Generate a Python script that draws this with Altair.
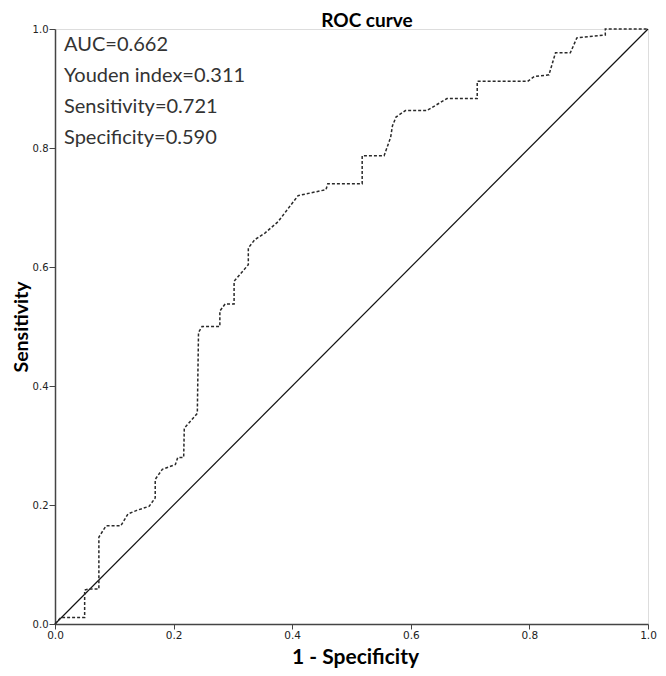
import altair as alt
import pandas as pd

# ROC curve points (1 - specificity, sensitivity)
fpr = [0.0, 0.01, 0.05, 0.05, 0.058, 0.074, 0.074, 0.086, 0.111, 0.123, 0.138, 0.159,
       0.169, 0.169, 0.181, 0.203, 0.207, 0.217, 0.218, 0.240, 0.242, 0.248, 0.278,
       0.278, 0.287, 0.302, 0.302, 0.326, 0.326, 0.337, 0.354, 0.376, 0.410, 0.457,
       0.460, 0.518, 0.518, 0.555, 0.566, 0.569, 0.575, 0.591, 0.627, 0.661, 0.712,
       0.712, 0.797, 0.808, 0.833, 0.844, 0.869, 0.880, 0.928, 0.928, 1.0]
tpr = [0.0, 0.011, 0.011, 0.057, 0.059, 0.059, 0.146, 0.165, 0.165, 0.185, 0.191, 0.198,
       0.212, 0.243, 0.260, 0.268, 0.280, 0.280, 0.329, 0.354, 0.490, 0.500, 0.500,
       0.526, 0.538, 0.538, 0.576, 0.604, 0.632, 0.646, 0.657, 0.676, 0.720, 0.730,
       0.740, 0.740, 0.787, 0.787, 0.818, 0.837, 0.852, 0.863, 0.863, 0.883, 0.883,
       0.912, 0.912, 0.920, 0.923, 0.960, 0.960, 0.985, 0.990, 1.0, 1.0]

# reference diagonal
diag_x = [0.0, 1.0]
diag_y = [0.0, 1.0]

# annotation statistics
stat_names = ["AUC", "Youden index", "Sensitivity", "Specificity"]
stat_values = [0.662, 0.311, 0.721, 0.590]

chart_title = "ROC curve"
ticks = [0.0, 0.2, 0.4, 0.6, 0.8, 1.0]

roc_df = pd.DataFrame({"fpr": fpr, "tpr": tpr, "i": list(range(len(fpr)))})
diag_df = pd.DataFrame({"fpr": diag_x, "tpr": diag_y, "i": [0, 1]})
stats_text = "\n".join(f"{n}={v:.3f}" for n, v in zip(stat_names, stat_values))
stats_df = pd.DataFrame({"t": [stats_text]})
title_df = pd.DataFrame({"t": [chart_title]})

FONT_LABEL = "DejaVu Sans"
FONT_TITLE = "Lato"

W, H = 593, 595

x_axis = alt.Axis(
    values=ticks, format=".1f", title="1 - Specificity", grid=False,
    tickSize=5, labelPadding=1, labelFontSize=10.5, labelFont=FONT_LABEL,
    labelColor="#222", tickColor="#444", domainColor="#444", domainWidth=1.5,
    titleFont=FONT_TITLE, titleFontSize=21, titleFontWeight="bold", titleColor="#000",
    titleX=300, titleY=39, titleAlign="center", titleBaseline="alphabetic",
    labelFlush=False,
)
y_axis = alt.Axis(
    values=ticks, format=".1f", title="Sensitivity", grid=False,
    tickSize=6, labelPadding=1, labelFontSize=10, labelFont=FONT_LABEL,
    labelColor="#222", tickColor="#444", domainColor="#444", domainWidth=1.5,
    titleFont=FONT_TITLE, titleFontSize=19.5, titleFontWeight="bold", titleColor="#000",
    titleX=-27.5, titleY=H / 2, titleAngle=-90, titleAlign="center",
    titleBaseline="alphabetic", labelFlush=False,
)

xs = alt.Scale(domain=[0, 1], nice=False, zero=False)
ys = alt.Scale(domain=[0, 1], nice=False, zero=False)

diag = alt.Chart(diag_df).mark_line(color="#111", strokeWidth=1.2).encode(
    x=alt.X("fpr:Q", scale=xs, axis=x_axis),
    y=alt.Y("tpr:Q", scale=ys, axis=y_axis),
    order="i:Q",
)

roc = alt.Chart(roc_df).mark_line(
    color="#2a2a2a", strokeWidth=1.5, strokeDash=[3, 2], interpolate="linear"
).encode(
    x=alt.X("fpr:Q", scale=xs),
    y=alt.Y("tpr:Q", scale=ys),
    order="i:Q",
)

stats = alt.Chart(stats_df).mark_text(
    align="left", baseline="alphabetic", font=FONT_TITLE, fontSize=20,
    color="#333", lineBreak="\n", lineHeight=31,
).encode(
    x=alt.value(9),
    y=alt.value(22),
    text="t:N",
)

title_mark = alt.Chart(title_df).mark_text(
    align="center", baseline="alphabetic", font=FONT_TITLE, fontSize=19,
    fontWeight="bold", color="#000",
).encode(
    x=alt.value(312),
    y=alt.value(-2),
    text="t:N",
)

chart = alt.layer(diag, roc, stats, title_mark).properties(
    width=W,
    height=H,
    autosize=alt.AutoSizeParams(type="none"),
    padding={"left": 47, "top": 21, "right": 10, "bottom": 44},
).configure_view(
    stroke="#444", strokeWidth=1.5
).configure(background="white")

chart.save("out.html", embed_options={"renderer": "svg", "actions": False})
